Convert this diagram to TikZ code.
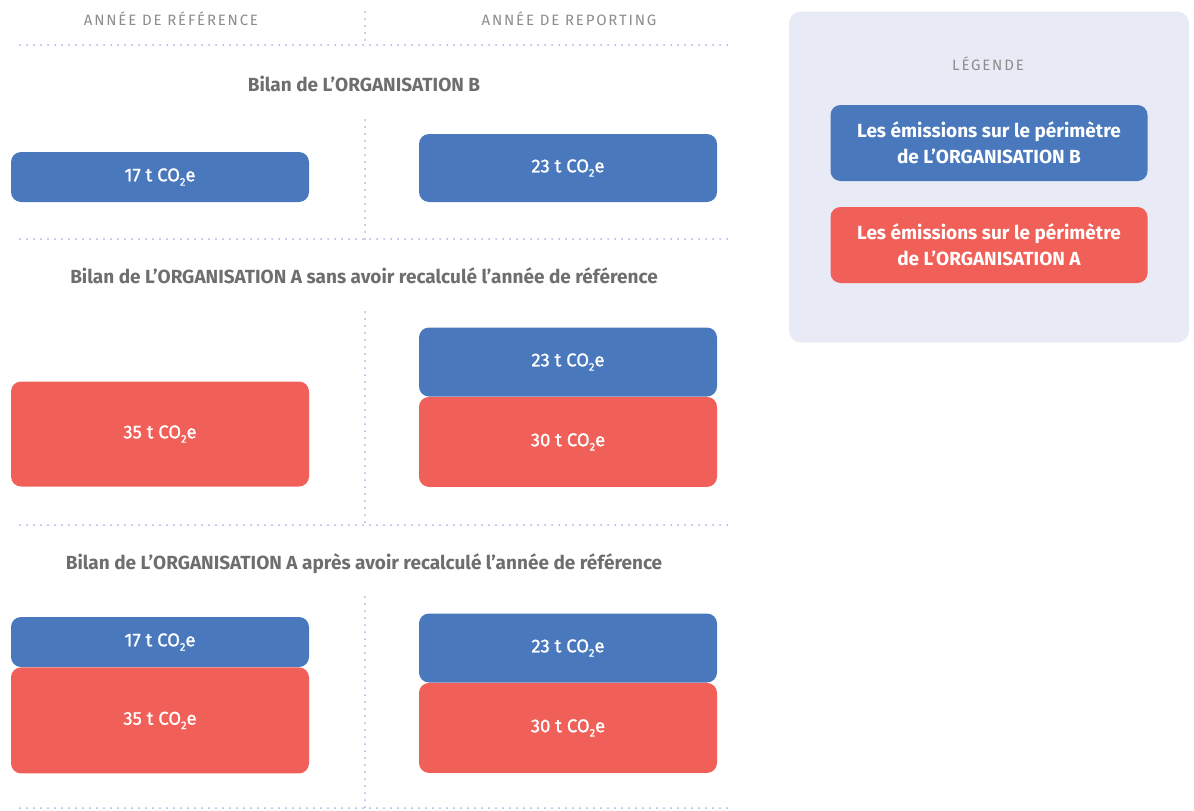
\documentclass[tikz,border=0pt]{standalone}
\usepackage{fontspec}
\setmainfont{Fira Sans}
\usetikzlibrary{positioning}
\definecolor{bleuB}{HTML}{4A78BD}
\definecolor{rougeA}{HTML}{F05F58}
\definecolor{fondLeg}{HTML}{E8EAF6}
\definecolor{pointille}{HTML}{A9B3DE}
\definecolor{grisTitre}{HTML}{6E6E6E}
\definecolor{grisEntete}{HTML}{8C8C8C}
\newcommand{\coe}{CO\raisebox{-0.45ex}{\fontsize{11}{11}\selectfont 2}e}

\begin{document}
\begin{tikzpicture}[x=1pt, y=-1pt,
        boite/.style={rounded corners=10pt, minimum width=298pt, text=white, font=\fontsize{18.5}{22}\selectfont\addfontfeature{FakeBold=1.2}},
        boiteB/.style={boite, fill=bleuB},
        boiteA/.style={boite, fill=rougeA},
        titre/.style={text=grisTitre, font=\bfseries\fontsize{19}{22}\selectfont},
        entete/.style={text=grisEntete, font=\fontsize{15}{18}\selectfont\addfontfeature{LetterSpace=12}},
        legbox/.style={rounded corners=10pt, minimum width=317pt, minimum height=76pt, align=center, text=white, font=\bfseries\fontsize{19}{26}\selectfont},
        sep/.style={draw=pointille, line width=2pt, line cap=round, dash pattern=on 0pt off 7pt}]
        \useasboundingbox (0,0) rectangle (1194,811);

        % En-tetes
        \node [entete] (ref) at (171,19) {ANNÉE DE RÉFÉRENCE};
        \node [entete] (rep) at (569,19) {ANNÉE DE REPORTING};

        % Separateurs
        \draw [sep] (20,45) -- (728,45);
        \draw [sep] (20,239) -- (728,239);
        \draw [sep] (20,525) -- (728,525);
        \draw [sep] (20,808) -- (728,808);
        \draw [sep] (365,12) -- (365,46);
        \draw [sep] (365,120) -- (365,240);
        \draw [sep] (365,312) -- (365,525);
        \draw [sep] (365,597) -- (365,811);

        % Bilan B
        \node [titre] (t1) at (364,84) {Bilan de L’ORGANISATION B};
        \node [boiteB, minimum height=50pt] (b1ref) at (160,177) {17 t \coe};
        \node [boiteB, minimum height=68pt] (b1rep) at (568,168) {23 t \coe};

        % Bilan A sans recalcul
        \node [titre] (t2) at (364,276) {Bilan de L’ORGANISATION A sans avoir recalculé l’année de référence};
        \node [boiteA, minimum height=105pt] (a2ref) at (160,434) {35 t \coe};
        \node [boiteB, minimum height=69pt] (b2rep) at (568,362) {23 t \coe};
        \node [boiteA, minimum height=90pt, below=0pt of b2rep] (a2rep) {30 t \coe};

        % Bilan A apres recalcul
        \node [titre] (t3) at (364,564) {Bilan de L’ORGANISATION A après avoir recalculé l’année de référence};
        \node [boiteB, minimum height=50pt] (b3ref) at (160,642) {17 t \coe};
        \node [boiteA, minimum height=106pt, below=0pt of b3ref] (a3ref) {35 t \coe};
        \node [boiteB, minimum height=69pt] (b3rep) at (568,648) {23 t \coe};
        \node [boiteA, minimum height=90pt, below=0pt of b3rep] (a3rep) {30 t \coe};

        % Legende
        \node [fill=fondLeg, rounded corners=12pt, minimum width=400pt, minimum height=331pt] (leg) at (989,177) {};
        \node [entete] (legt) at (988,64) {LÉGENDE};
        \node [legbox, fill=bleuB] (legB) at (989,143) {Les émissions sur le périmètre\\de L’ORGANISATION B};
        \node [legbox, fill=rougeA] (legA) at (989,245) {Les émissions sur le périmètre\\de L’ORGANISATION A};
    \end{tikzpicture}
\end{document}
